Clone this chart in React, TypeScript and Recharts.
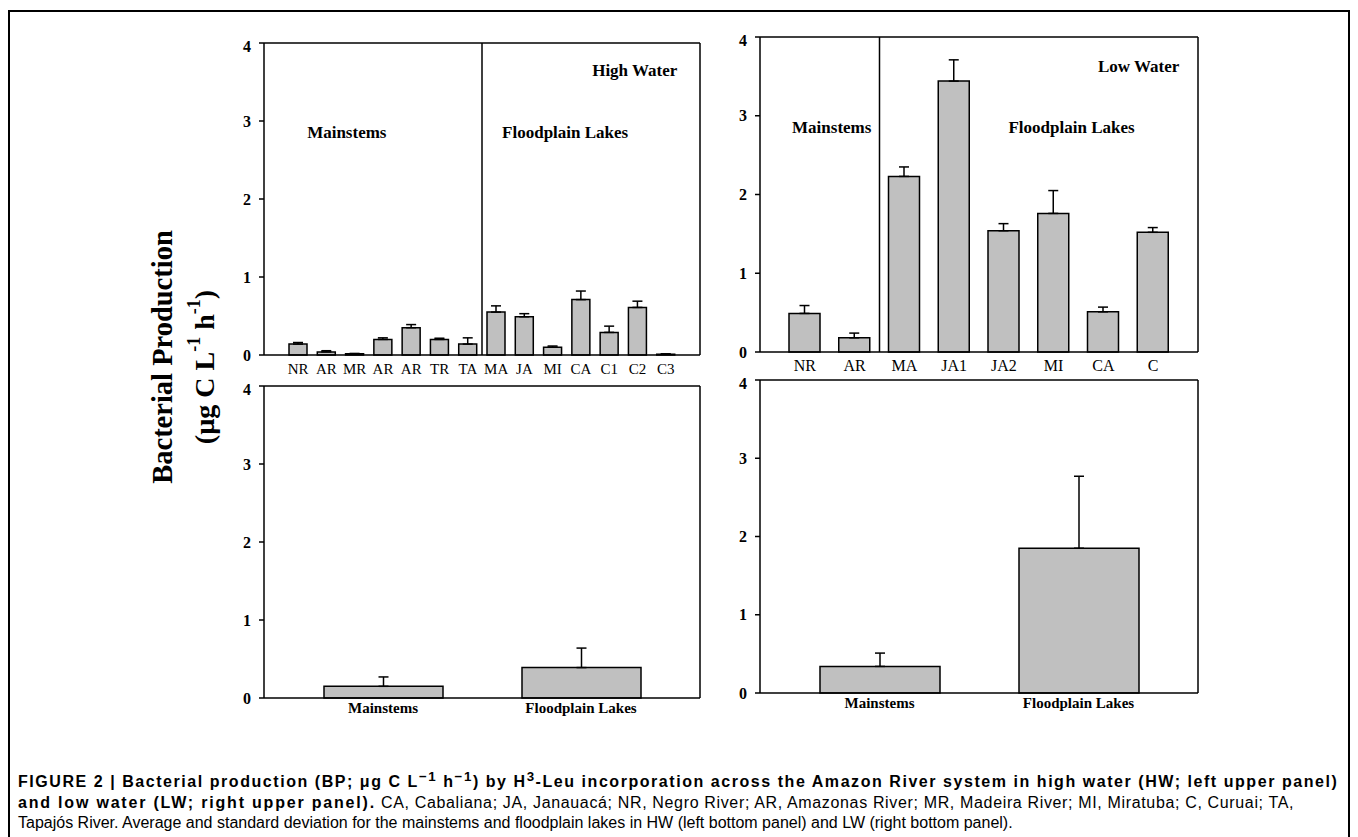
import {
  BarChart,
  Bar,
  XAxis,
  YAxis,
  ErrorBar,
  ReferenceLine,
  ReferenceDot,
} from "recharts"

// high water, per site
const hwSites = ["NR", "AR", "MR", "AR", "AR", "TR", "TA", "MA", "JA", "MI", "CA", "C1", "C2", "C3"]
const hwMean = [0.14, 0.04, 0.015, 0.2, 0.35, 0.2, 0.14, 0.55, 0.49, 0.1, 0.71, 0.29, 0.61, 0.01]
const hwSd = [0.02, 0.015, 0.005, 0.02, 0.04, 0.015, 0.08, 0.08, 0.04, 0.015, 0.11, 0.08, 0.08, 0.005]

// low water, per site
const lwSites = ["NR", "AR", "MA", "JA1", "JA2", "MI", "CA", "C"]
const lwMean = [0.49, 0.18, 2.23, 3.44, 1.54, 1.76, 0.51, 1.52]
const lwSd = [0.1, 0.06, 0.12, 0.27, 0.09, 0.29, 0.06, 0.06]

// group averages
const groups = ["Mainstems", "Floodplain Lakes"]
const hwGroupMean = [0.15, 0.39]
const hwGroupSd = [0.12, 0.25]
const lwGroupMean = [0.34, 1.85]
const lwGroupSd = [0.17, 0.92]

const yTicks = [0, 1, 2, 3, 4]

const serif = '"Liberation Serif", "Times New Roman", serif'
const sans = '"Liberation Sans", Arial, sans-serif'

type Note = { x: number; y: number; text: string }

function Panel({
  left,
  top,
  width,
  height,
  cats,
  mean,
  sd,
  barSize,
  divider,
  notes = [],
  tickSize,
  tickBold,
  tickGap,
}: {
  left: number
  top: number
  width: number
  height: number
  cats: string[]
  mean: number[]
  sd: number[]
  barSize: number
  divider?: number
  notes?: Note[]
  tickSize: number
  tickBold: boolean
  tickGap: number
}) {
  const data = cats.map((c, i) => ({ i, name: c, v: mean[i], err: [0, sd[i]] }))
  const dom = [-0.5, cats.length - 0.5]
  const line = { stroke: "#000", strokeWidth: 1.5 }
  return (
    <div style={{ position: "absolute", left, top }}>
      <BarChart
        width={width}
        height={height}
        data={data}
        margin={{ top: 5, right: 0, bottom: 0, left: 0 }}
      >
        <XAxis
          dataKey="i"
          type="number"
          domain={dom}
          ticks={cats.map((_, i) => i)}
          interval={0}
          tickFormatter={(v) => cats[v]}
          padding={{ left: 20, right: 20 }}
          axisLine={line}
          tickLine={false}
          tickSize={0}
          tickMargin={tickGap}
          height={30}
          tick={{
            fill: "#000",
            fontSize: tickSize,
            fontFamily: serif,
            fontWeight: tickBold ? "bold" : "normal",
          }}
        />
        <XAxis
          xAxisId="top"
          orientation="top"
          dataKey="i"
          type="number"
          domain={dom}
          tick={false}
          tickLine={false}
          axisLine={line}
          height={1}
        />
        <YAxis
          domain={[0, 4]}
          ticks={yTicks}
          width={40}
          axisLine={line}
          tickLine={line}
          tickSize={5}
          tickMargin={8}
          tick={{ fill: "#000", fontSize: 16, fontWeight: "bold", fontFamily: serif }}
        />
        <YAxis
          yAxisId="right"
          orientation="right"
          domain={[0, 4]}
          tick={false}
          tickLine={false}
          axisLine={line}
          width={1}
        />
        {divider !== undefined && <ReferenceLine x={divider} stroke="#000" strokeWidth={1.5} />}
        {notes.map((n) => (
          <ReferenceDot
            key={n.text}
            x={n.x}
            y={n.y}
            r={0}
            fill="none"
            stroke="none"
            label={{
              value: n.text,
              position: "center",
              fill: "#000",
              fontSize: 17,
              fontWeight: "bold",
              fontFamily: serif,
            }}
          />
        ))}
        <Bar
          dataKey="v"
          fill="#c0c0c0"
          stroke="#000"
          strokeWidth={1.5}
          barSize={barSize}
          isAnimationActive={false}
        >
          <ErrorBar dataKey="err" direction="y" width={5} stroke="#000" strokeWidth={1.5} />
        </Bar>
      </BarChart>
    </div>
  )
}

export default function App() {
  return (
    <div
      style={{
        position: "absolute",
        left: 0,
        top: 0,
        width: 1358,
        height: 837,
        background: "#fff",
        overflow: "hidden",
      }}
    >
      <div
        style={{
          position: "absolute",
          left: 8,
          top: 10,
          width: 1342,
          height: 840,
          border: "2px solid #000",
          boxSizing: "border-box",
        }}
      />

      <svg
        width={120}
        height={300}
        style={{ position: "absolute", left: 120, top: 210 }}
        fontFamily={serif}
        fontWeight="bold"
      >
        <text
          transform="translate(42,147) rotate(-90)"
          textAnchor="middle"
          dominantBaseline="central"
          fontSize={28.5}
        >
          Bacterial Production
        </text>
        <text
          transform="translate(84,157) rotate(-90)"
          textAnchor="middle"
          dominantBaseline="central"
          fontSize={28}
        >
          (µg C L<tspan fontSize={18} dy={-10}>-1</tspan>
          <tspan dy={10}> h</tspan>
          <tspan fontSize={18} dy={-10}>-1</tspan>
          <tspan dy={10}>)</tspan>
        </text>
      </svg>

      <Panel
        left={224}
        top={37}
        width={477}
        height={348}
        cats={hwSites}
        mean={hwMean}
        sd={hwSd}
        barSize={18}
        divider={6.5}
        tickSize={15}
        tickBold={false}
        tickGap={8}
        notes={[
          { x: 1.72, y: 2.86, text: "Mainstems" },
          { x: 9.44, y: 2.86, text: "Floodplain Lakes" },
          { x: 11.9, y: 3.66, text: "High Water" },
        ]}
      />
      <Panel
        left={720}
        top={31}
        width={479}
        height={351}
        cats={lwSites}
        mean={lwMean}
        sd={lwSd}
        barSize={31}
        divider={1.5}
        tickSize={16}
        tickBold={false}
        tickGap={8}
        notes={[
          { x: 0.54, y: 2.86, text: "Mainstems" },
          { x: 5.36, y: 2.86, text: "Floodplain Lakes" },
          { x: 6.71, y: 3.63, text: "Low Water" },
        ]}
      />
      <Panel
        left={224}
        top={380}
        width={477}
        height={348}
        cats={groups}
        mean={hwGroupMean}
        sd={hwGroupSd}
        barSize={119}
        tickSize={15}
        tickBold={true}
        tickGap={4}
      />
      <Panel
        left={720}
        top={374}
        width={479}
        height={349}
        cats={groups}
        mean={lwGroupMean}
        sd={lwGroupSd}
        barSize={120}
        tickSize={15}
        tickBold={true}
        tickGap={4}
      />

      <div
        style={{
          position: "absolute",
          left: 18,
          top: 767,
          fontFamily: sans,
          fontSize: 16,
          lineHeight: "20.5px",
          color: "#000",
          whiteSpace: "nowrap",
        }}
      >
        <div style={{ fontWeight: "bold", letterSpacing: "1.55px" }}>
          FIGURE 2 | Bacterial production (BP; μg C L<sup>−1</sup> h<sup>−1</sup>) by H
          <sup>3</sup>-Leu incorporation across the Amazon River system in high water (HW; left
          upper panel)
        </div>
        <div>
          <b style={{ letterSpacing: "1.8px" }}>and low water (LW; right upper panel).</b>
          <span style={{ letterSpacing: "0.65px" }}>
            {" "}
            CA, Cabaliana; JA, Janauacá; NR, Negro River; AR, Amazonas River; MR, Madeira River;
            MI, Miratuba; C, Curuai; TA,
          </span>
        </div>
        <div>
          Tapajós River. Average and standard deviation for the mainstems and floodplain lakes in
          HW (left bottom panel) and LW (right bottom panel).
        </div>
      </div>
    </div>
  )
}
